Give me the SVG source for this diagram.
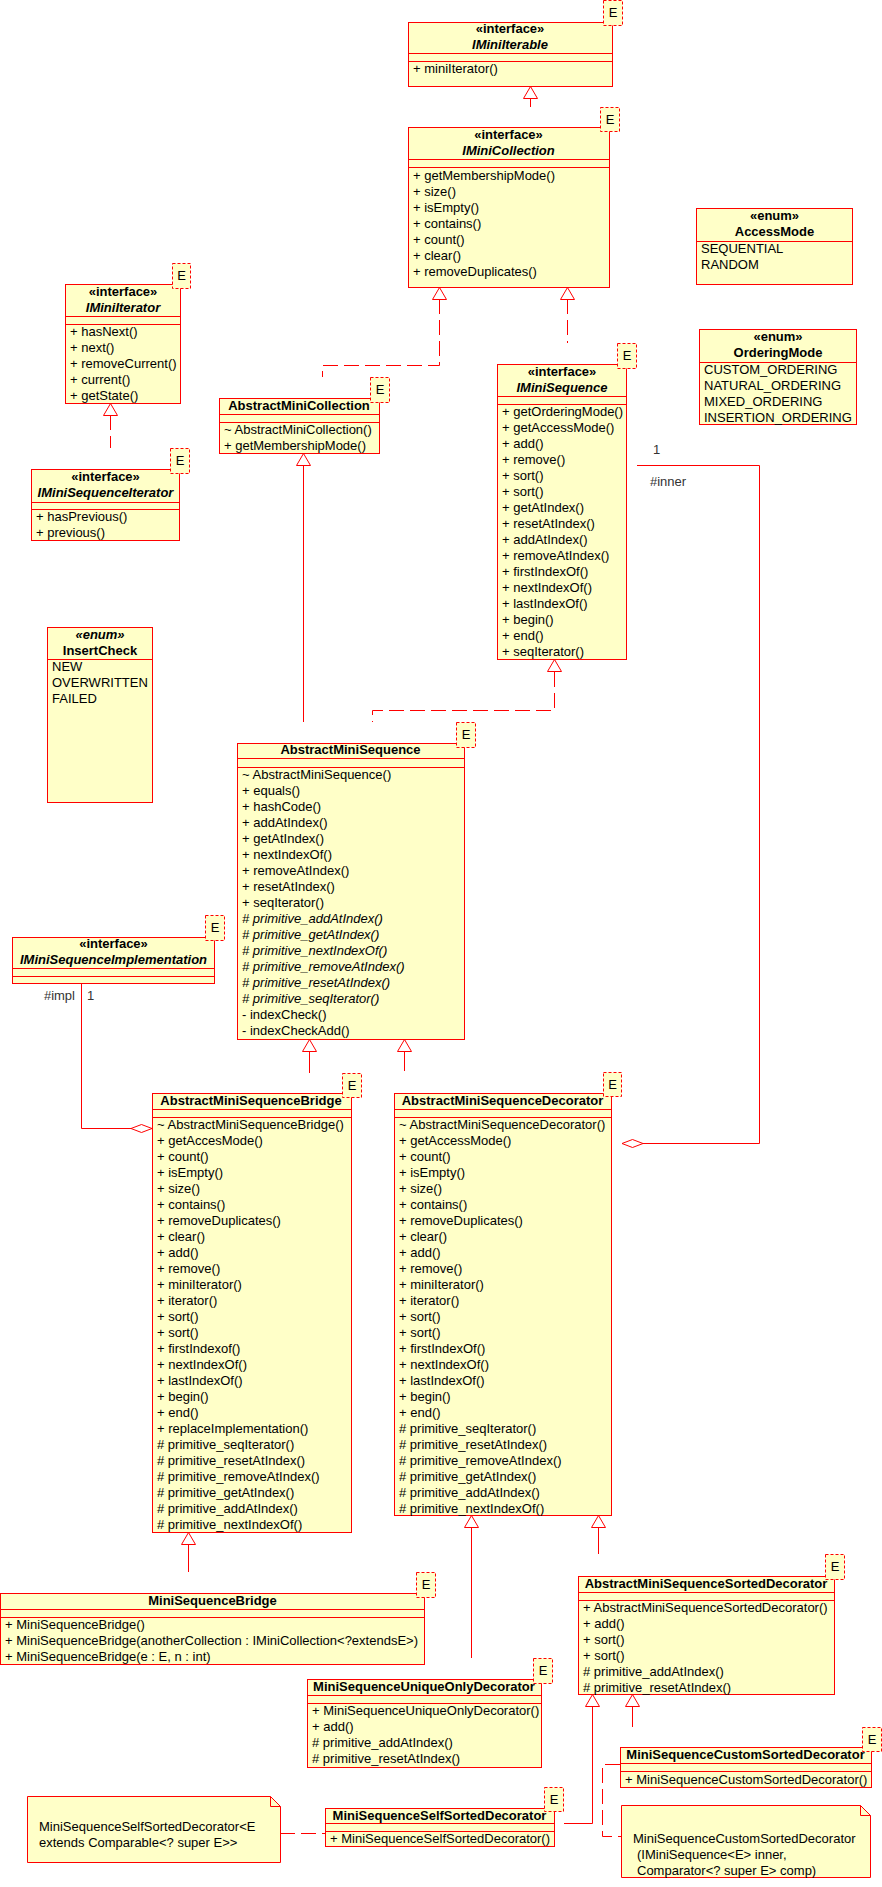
<svg xmlns="http://www.w3.org/2000/svg" width="882" height="1887" viewBox="0 0 882 1887">
<style>
.box{fill:#FFFFC8;stroke:#F00;stroke-width:1}
.sep{stroke:#F00;stroke-width:1;fill:none}
.eb{fill:#FFFFC8;stroke:#F00;stroke-width:1;stroke-dasharray:3 2}
text{font-family:"Liberation Sans",Arial,sans-serif;font-size:13px;fill:#000}
.c{text-anchor:middle}
.b{font-weight:bold}
.i{font-style:italic}
.ln{fill:none;stroke:#F00;stroke-width:1}
.d{stroke-dasharray:15 6}
.tri{fill:#fff;stroke:#F00;stroke-width:1}
.lbl{fill:#333}
</style>
<rect width="882" height="1887" fill="#fff"/>

<g id="connectors">
<path class="ln d" d="M530.5 98V107"/>
<polygon class="tri" points="530.5,86.5 523.5,98.5 537.5,98.5"/>
<path class="ln d" d="M439.5 299V365.5H322.5V377"/>
<polygon class="tri" points="439.5,287.5 432.5,299.5 446.5,299.5"/>
<path class="ln d" d="M567.5 299V343"/>
<polygon class="tri" points="567.5,287.5 560.5,299.5 574.5,299.5"/>
<path class="ln d" d="M110.5 415V448"/>
<polygon class="tri" points="110.5,403.5 103.5,415.5 117.5,415.5"/>
<path class="ln" d="M303.5 466V722"/>
<polygon class="tri" points="303.5,453.5 296.5,465.5 310.5,465.5"/>
<path class="ln d" d="M554.5 672V710.5H372.5V722"/>
<polygon class="tri" points="554.5,659.5 547.5,671.5 561.5,671.5"/>
<path class="ln" d="M637 465.5H759.5V1143.5H643"/>
<polygon class="tri" points="622,1143.5 632.5,1139.5 643,1143.5 632.5,1147.5"/>
<text class="lbl" x="653" y="454">1</text>
<text class="lbl" x="650" y="486">#inner</text>
<path class="ln" d="M309.5 1051V1073"/>
<path class="ln" d="M404.5 1051V1071"/>
<polygon class="tri" points="309.5,1039.5 302.5,1051.5 316.5,1051.5"/>
<polygon class="tri" points="404.5,1039.5 397.5,1051.5 411.5,1051.5"/>
<path class="ln" d="M81.5 984V1128.5H131"/>
<polygon class="tri" points="131,1128.5 141.5,1124.5 152,1128.5 141.5,1132.5"/>
<text class="lbl" x="75" y="1000" text-anchor="end">#impl</text>
<text class="lbl" x="87" y="1000">1</text>
<path class="ln" d="M188.5 1544V1572"/>
<polygon class="tri" points="188.5,1532.5 181.5,1544.5 195.5,1544.5"/>
<path class="ln" d="M471.5 1528V1658"/>
<path class="ln" d="M598.5 1528V1554"/>
<polygon class="tri" points="471.5,1515.5 464.5,1527.5 478.5,1527.5"/>
<polygon class="tri" points="598.5,1515.5 591.5,1527.5 605.5,1527.5"/>
<path class="ln" d="M632.5 1707V1727"/>
<path class="ln" d="M592.5 1707V1823.5H564"/>
<polygon class="tri" points="592.5,1694.5 585.5,1706.5 599.5,1706.5"/>
<polygon class="tri" points="632.5,1694.5 625.5,1706.5 639.5,1706.5"/>
<path class="ln d" d="M280 1833.5H325"/>
<path class="ln d" d="M620 1764.5H602.5V1836.5H621"/>
</g>

<g id="IMiniIterable">
<rect class="box" x="408.5" y="22.5" width="204" height="64"/>
<path class="sep" d="M408 53.5H612M408 61.5H612"/>
<rect class="eb" x="603.5" y="0.5" width="19" height="25"/>
<text class="c" x="613" y="17">E</text>
<text class="c b" x="510" y="33">«interface»</text>
<text class="c b i" x="510" y="49">IMiniIterable</text>
<text x="413" y="73">+ miniIterator()</text>
</g>

<g id="IMiniCollection">
<rect class="box" x="408.5" y="127.5" width="201" height="160"/>
<path class="sep" d="M408 159.5H609M408 167.5H609"/>
<rect class="eb" x="600.5" y="107.5" width="19" height="24"/>
<text class="c" x="610" y="124">E</text>
<text class="c b" x="508.5" y="139">«interface»</text>
<text class="c b i" x="508.5" y="155">IMiniCollection</text>
<text x="413" y="180">+ getMembershipMode()</text>
<text x="413" y="196">+ size()</text>
<text x="413" y="212">+ isEmpty()</text>
<text x="413" y="228">+ contains()</text>
<text x="413" y="244">+ count()</text>
<text x="413" y="260">+ clear()</text>
<text x="413" y="276">+ removeDuplicates()</text>
</g>

<g id="IMiniIterator">
<rect class="box" x="65.5" y="284.5" width="115" height="119"/>
<path class="sep" d="M65 316.5H180M65 324.5H180"/>
<rect class="eb" x="172.5" y="263.5" width="18" height="25"/>
<text class="c" x="181.5" y="280">E</text>
<text class="c b" x="123" y="296">«interface»</text>
<text class="c b i" x="123" y="312">IMiniIterator</text>
<text x="70" y="336">+ hasNext()</text>
<text x="70" y="352">+ next()</text>
<text x="70" y="368">+ removeCurrent()</text>
<text x="70" y="384">+ current()</text>
<text x="70" y="400">+ getState()</text>
</g>

<g id="IMiniSequenceIterator">
<rect class="box" x="31.5" y="469.5" width="148" height="71"/>
<path class="sep" d="M31 502.5H179M31 509.5H179"/>
<rect class="eb" x="170.5" y="448.5" width="19" height="25"/>
<text class="c" x="180" y="465">E</text>
<text class="c b" x="105.5" y="481">«interface»</text>
<text class="c b i" x="105.5" y="497">IMiniSequenceIterator</text>
<text x="36" y="521">+ hasPrevious()</text>
<text x="36" y="537">+ previous()</text>
</g>

<g id="AbstractMiniCollection">
<rect class="box" x="219.5" y="398.5" width="160" height="55"/>
<path class="sep" d="M219 414.5H379M219 422.5H379"/>
<rect class="eb" x="370.5" y="377.5" width="19" height="25"/>
<text class="c" x="380" y="394">E</text>
<text class="c b" x="299" y="410">AbstractMiniCollection</text>
<text x="224" y="434">~ AbstractMiniCollection()</text>
<text x="224" y="450">+ getMembershipMode()</text>
</g>

<g id="IMiniSequence">
<rect class="box" x="497.5" y="364.5" width="129" height="295"/>
<path class="sep" d="M497 396.5H626M497 404.5H626"/>
<rect class="eb" x="617.5" y="343.5" width="19" height="25"/>
<text class="c" x="627" y="360">E</text>
<text class="c b" x="562" y="376">«interface»</text>
<text class="c b i" x="562" y="392">IMiniSequence</text>
<text x="502" y="416">+ getOrderingMode()</text>
<text x="502" y="432">+ getAccessMode()</text>
<text x="502" y="448">+ add()</text>
<text x="502" y="464">+ remove()</text>
<text x="502" y="480">+ sort()</text>
<text x="502" y="496">+ sort()</text>
<text x="502" y="512">+ getAtIndex()</text>
<text x="502" y="528">+ resetAtIndex()</text>
<text x="502" y="544">+ addAtIndex()</text>
<text x="502" y="560">+ removeAtIndex()</text>
<text x="502" y="576">+ firstIndexOf()</text>
<text x="502" y="592">+ nextIndexOf()</text>
<text x="502" y="608">+ lastIndexOf()</text>
<text x="502" y="624">+ begin()</text>
<text x="502" y="640">+ end()</text>
<text x="502" y="656">+ seqIterator()</text>
</g>

<g id="AccessMode">
<rect class="box" x="696.5" y="208.5" width="156" height="76"/>
<path class="sep" d="M696 241.5H852"/>
<text class="c b" x="774.5" y="220">«enum»</text>
<text class="c b" x="774.5" y="236">AccessMode</text>
<text x="701" y="253">SEQUENTIAL</text>
<text x="701" y="269">RANDOM</text>
</g>

<g id="OrderingMode">
<rect class="box" x="699.5" y="329.5" width="157" height="95"/>
<path class="sep" d="M699 362.5H856"/>
<text class="c b" x="778" y="341">«enum»</text>
<text class="c b" x="778" y="357">OrderingMode</text>
<text x="704" y="374">CUSTOM_ORDERING</text>
<text x="704" y="390">NATURAL_ORDERING</text>
<text x="704" y="406">MIXED_ORDERING</text>
<text x="704" y="422">INSERTION_ORDERING</text>
</g>

<g id="InsertCheck">
<rect class="box" x="47.5" y="627.5" width="105" height="175"/>
<path class="sep" d="M47 659.5H152"/>
<text class="c b i" x="100" y="639">«enum»</text>
<text class="c b" x="100" y="655">InsertCheck</text>
<text x="52" y="671">NEW</text>
<text x="52" y="687">OVERWRITTEN</text>
<text x="52" y="703">FAILED</text>
</g>

<g id="IMiniSequenceImplementation">
<rect class="box" x="12.5" y="937.5" width="202" height="46"/>
<path class="sep" d="M12 968.5H214M12 976.5H214"/>
<rect class="eb" x="205.5" y="915.5" width="19" height="25"/>
<text class="c" x="215" y="932">E</text>
<text class="c b" x="113.5" y="948">«interface»</text>
<text class="c b i" x="113.5" y="964">IMiniSequenceImplementation</text>
</g>

<g id="AbstractMiniSequence">
<rect class="box" x="237.5" y="743.5" width="227" height="296"/>
<path class="sep" d="M237 758.5H464M237 767.5H464"/>
<rect class="eb" x="456.5" y="722.5" width="19" height="25"/>
<text class="c" x="466" y="739">E</text>
<text class="c b" x="350.5" y="754">AbstractMiniSequence</text>
<text x="242" y="779">~ AbstractMiniSequence()</text>
<text x="242" y="795">+ equals()</text>
<text x="242" y="811">+ hashCode()</text>
<text x="242" y="827">+ addAtIndex()</text>
<text x="242" y="843">+ getAtIndex()</text>
<text x="242" y="859">+ nextIndexOf()</text>
<text x="242" y="875">+ removeAtIndex()</text>
<text x="242" y="891">+ resetAtIndex()</text>
<text x="242" y="907">+ seqIterator()</text>
<text class="i" x="242" y="923"># primitive_addAtIndex()</text>
<text class="i" x="242" y="939"># primitive_getAtIndex()</text>
<text class="i" x="242" y="955"># primitive_nextIndexOf()</text>
<text class="i" x="242" y="971"># primitive_removeAtIndex()</text>
<text class="i" x="242" y="987"># primitive_resetAtIndex()</text>
<text class="i" x="242" y="1003"># primitive_seqIterator()</text>
<text x="242" y="1019">- indexCheck()</text>
<text x="242" y="1035">- indexCheckAdd()</text>
</g>

<g id="AbstractMiniSequenceBridge">
<rect class="box" x="152.5" y="1093.5" width="199" height="439"/>
<path class="sep" d="M152 1109.5H351M152 1117.5H351"/>
<rect class="eb" x="342.5" y="1073.5" width="19" height="24"/>
<text class="c" x="352" y="1090">E</text>
<text class="c b" x="251" y="1105">AbstractMiniSequenceBridge</text>
<text x="157" y="1129">~ AbstractMiniSequenceBridge()</text>
<text x="157" y="1145">+ getAccesMode()</text>
<text x="157" y="1161">+ count()</text>
<text x="157" y="1177">+ isEmpty()</text>
<text x="157" y="1193">+ size()</text>
<text x="157" y="1209">+ contains()</text>
<text x="157" y="1225">+ removeDuplicates()</text>
<text x="157" y="1241">+ clear()</text>
<text x="157" y="1257">+ add()</text>
<text x="157" y="1273">+ remove()</text>
<text x="157" y="1289">+ miniIterator()</text>
<text x="157" y="1305">+ iterator()</text>
<text x="157" y="1321">+ sort()</text>
<text x="157" y="1337">+ sort()</text>
<text x="157" y="1353">+ firstIndexof()</text>
<text x="157" y="1369">+ nextIndexOf()</text>
<text x="157" y="1385">+ lastIndexOf()</text>
<text x="157" y="1401">+ begin()</text>
<text x="157" y="1417">+ end()</text>
<text x="157" y="1433">+ replaceImplementation()</text>
<text x="157" y="1449"># primitive_seqIterator()</text>
<text x="157" y="1465"># primitive_resetAtIndex()</text>
<text x="157" y="1481"># primitive_removeAtIndex()</text>
<text x="157" y="1497"># primitive_getAtIndex()</text>
<text x="157" y="1513"># primitive_addAtIndex()</text>
<text x="157" y="1529"># primitive_nextIndexOf()</text>
</g>

<g id="AbstractMiniSequenceDecorator">
<rect class="box" x="394.5" y="1093.5" width="217" height="422"/>
<path class="sep" d="M394 1109.5H611M394 1117.5H611"/>
<rect class="eb" x="603.5" y="1072.5" width="18" height="24"/>
<text class="c" x="612.5" y="1089">E</text>
<text class="c b" x="502.5" y="1105">AbstractMiniSequenceDecorator</text>
<text x="399" y="1129">~ AbstractMiniSequenceDecorator()</text>
<text x="399" y="1145">+ getAccessMode()</text>
<text x="399" y="1161">+ count()</text>
<text x="399" y="1177">+ isEmpty()</text>
<text x="399" y="1193">+ size()</text>
<text x="399" y="1209">+ contains()</text>
<text x="399" y="1225">+ removeDuplicates()</text>
<text x="399" y="1241">+ clear()</text>
<text x="399" y="1257">+ add()</text>
<text x="399" y="1273">+ remove()</text>
<text x="399" y="1289">+ miniIterator()</text>
<text x="399" y="1305">+ iterator()</text>
<text x="399" y="1321">+ sort()</text>
<text x="399" y="1337">+ sort()</text>
<text x="399" y="1353">+ firstIndexOf()</text>
<text x="399" y="1369">+ nextIndexOf()</text>
<text x="399" y="1385">+ lastIndexOf()</text>
<text x="399" y="1401">+ begin()</text>
<text x="399" y="1417">+ end()</text>
<text x="399" y="1433"># primitive_seqIterator()</text>
<text x="399" y="1449"># primitive_resetAtIndex()</text>
<text x="399" y="1465"># primitive_removeAtIndex()</text>
<text x="399" y="1481"># primitive_getAtIndex()</text>
<text x="399" y="1497"># primitive_addAtIndex()</text>
<text x="399" y="1513"># primitive_nextIndexOf()</text>
</g>

<g id="MiniSequenceBridge">
<rect class="box" x="0.5" y="1593.5" width="424" height="71"/>
<path class="sep" d="M0 1609.5H424M0 1617.5H424"/>
<rect class="eb" x="416.5" y="1572.5" width="19" height="25"/>
<text class="c" x="426" y="1589">E</text>
<text class="c b" x="212.5" y="1605">MiniSequenceBridge</text>
<text x="5" y="1629">+ MiniSequenceBridge()</text>
<text x="5" y="1645">+ MiniSequenceBridge(anotherCollection : IMiniCollection&lt;?extendsE&gt;)</text>
<text x="5" y="1661">+ MiniSequenceBridge(e : E, n : int)</text>
</g>

<g id="AbstractMiniSequenceSortedDecorator">
<rect class="box" x="578.5" y="1576.5" width="256" height="118"/>
<path class="sep" d="M578 1592.5H834M578 1600.5H834"/>
<rect class="eb" x="825.5" y="1554.5" width="19" height="25"/>
<text class="c" x="835" y="1571">E</text>
<text class="c b" x="706" y="1588">AbstractMiniSequenceSortedDecorator</text>
<text x="583" y="1612">+ AbstractMiniSequenceSortedDecorator()</text>
<text x="583" y="1628">+ add()</text>
<text x="583" y="1644">+ sort()</text>
<text x="583" y="1660">+ sort()</text>
<text x="583" y="1676"># primitive_addAtIndex()</text>
<text x="583" y="1692"># primitive_resetAtIndex()</text>
</g>

<g id="MiniSequenceUniqueOnlyDecorator">
<rect class="box" x="307.5" y="1679.5" width="234" height="88"/>
<path class="sep" d="M307 1695.5H541M307 1703.5H541"/>
<rect class="eb" x="533.5" y="1658.5" width="19" height="25"/>
<text class="c" x="543" y="1675">E</text>
<text class="c b" x="424" y="1691">MiniSequenceUniqueOnlyDecorator</text>
<text x="312" y="1715">+ MiniSequenceUniqueOnlyDecorator()</text>
<text x="312" y="1731">+ add()</text>
<text x="312" y="1747"># primitive_addAtIndex()</text>
<text x="312" y="1763"># primitive_resetAtIndex()</text>
</g>

<g id="MiniSequenceCustomSortedDecorator">
<rect class="box" x="620.5" y="1747.5" width="251" height="40"/>
<path class="sep" d="M620 1763.5H871M620 1771.5H871"/>
<rect class="eb" x="862.5" y="1727.5" width="19" height="24"/>
<text class="c" x="872" y="1744">E</text>
<text class="c b" x="745.5" y="1759">MiniSequenceCustomSortedDecorator</text>
<text x="625" y="1784">+ MiniSequenceCustomSortedDecorator()</text>
</g>

<g id="MiniSequenceSelfSortedDecorator">
<rect class="box" x="325.5" y="1808.5" width="229" height="38"/>
<path class="sep" d="M325 1823.5H554M325 1831.5H554"/>
<rect class="eb" x="544.5" y="1787.5" width="19" height="24"/>
<text class="c" x="554" y="1804">E</text>
<text class="c b" x="439.5" y="1820">MiniSequenceSelfSortedDecorator</text>
<text x="330" y="1843">+ MiniSequenceSelfSortedDecorator()</text>
</g>

<g id="NoteSelfSorted">
<path class="box" d="M27.5 1796.5H270.5L280.5 1806.5V1862.5H27.5Z"/>
<path class="sep" d="M270.5 1796.5V1806.5H280.5"/>
<text x="39" y="1831">MiniSequenceSelfSortedDecorator&lt;E</text>
<text x="39" y="1847">extends Comparable&lt;? super E&gt;&gt;</text>
</g>

<g id="NoteCustomSorted">
<path class="box" d="M621.5 1805.5H860.5L870.5 1815.5V1877.5H621.5Z"/>
<path class="sep" d="M860.5 1805.5V1815.5H870.5"/>
<text x="633" y="1843">MiniSequenceCustomSortedDecorator</text>
<text x="637" y="1859">(IMiniSequence&lt;E&gt; inner,</text>
<text x="637" y="1875">Comparator&lt;? super E&gt; comp)</text>
</g>
</svg>
